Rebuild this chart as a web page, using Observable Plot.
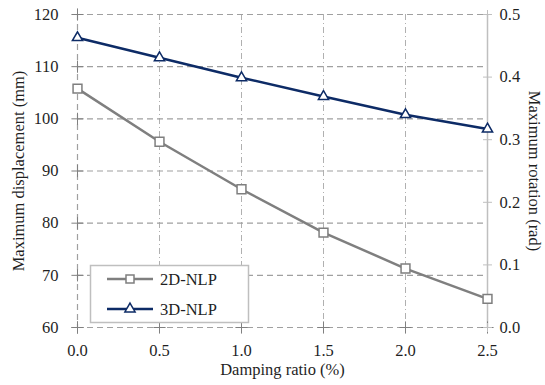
<!DOCTYPE html>
<html><head><meta charset="utf-8">
<script src="https://cdn.jsdelivr.net/npm/d3@7"></script>
<script src="https://cdn.jsdelivr.net/npm/@observablehq/plot@0.6"></script>
<style>body{margin:0;background:#fff;} #chart{position:relative;width:545px;height:385px;}</style>
</head><body><div id="chart"></div>
<script>
const damping = [0.0, 0.5, 1.0, 1.5, 2.0, 2.5];
const disp2D = [105.8, 95.6, 86.5, 78.2, 71.3, 65.5];   // mm (left axis)
const rot3D = [0.463, 0.431, 0.399, 0.369, 0.340, 0.317]; // rad (right axis)
const xTicks = [0.0, 0.5, 1.0, 1.5, 2.0, 2.5];
const leftTicks = [60, 70, 80, 90, 100, 110, 120];
const rightTicks = [0.0, 0.1, 0.2, 0.3, 0.4, 0.5];
const seriesNames = ["2D-NLP", "3D-NLP"];
const colors = ["#7f7f7f", "#0d2b66"];

const rad2mm = r => 60 + r * 120;
const d2 = damping.map((x, i) => ({x, y: disp2D[i]}));
const d3s = damping.map((x, i) => ({x, y: rad2mm(rot3D[i])}));

const font = "Liberation Serif";
const fs = 16.5;
const txt = "#1f1f1f";
const plot = Plot.plot({
  width: 545, height: 385,
  marginLeft: 77, marginRight: 58, marginTop: 14, marginBottom: 58,
  x: {domain: [0, 2.5]},
  y: {domain: [60, 120]},
  style: {fontFamily: font, fontSize: fs + "px", color: txt, background: "#fff"},
  marks: [
    Plot.ruleX(xTicks.filter(d => d > 0 && d < 2.5), {stroke: "#b0b0b0", strokeWidth: 1, strokeDasharray: "6,3,1,3"}),
    Plot.ruleX([0], {stroke: "#a0a0a0", strokeWidth: 1.2, strokeDasharray: "6,4"}),
    Plot.ruleY(leftTicks, {stroke: "#a0a0a0", strokeWidth: 1.2, strokeDasharray: "6,4"}),
    Plot.ruleX([2.5], {stroke: "#bfbfbf", strokeWidth: 1.5}),
    Plot.dot(leftTicks, {x: () => 0, y: d => d, symbol: "plus", r: 4, stroke: "#808080", strokeWidth: 1}),
    Plot.dot(xTicks, {x: d => d, y: () => 60, symbol: "plus", r: 4, stroke: "#808080", strokeWidth: 1}),
    Plot.dot(rightTicks, {x: () => 2.5, y: d => rad2mm(d), symbol: "plus", r: 3, stroke: "#bfbfbf", strokeWidth: 1}),
    Plot.axisX({ticks: xTicks, tickSize: 0, tickPadding: 17, tickFormat: d => d.toFixed(1), label: null, fontSize: fs}),
    Plot.axisY({ticks: leftTicks, tickSize: 0, tickPadding: 19, label: null, fontSize: fs}),
    Plot.axisY({anchor: "right", ticks: rightTicks.map(rad2mm), tickSize: 0, tickPadding: 12,
      tickFormat: d => ((d - 60) / 120).toFixed(1), label: null, fontSize: fs}),
    Plot.text(["Damping ratio (%)"], {frameAnchor: "bottom", textAnchor: "middle", dy: 47, fontSize: fs, fill: txt}),
    Plot.text(["Maximum displacement (mm)"], {frameAnchor: "left", textAnchor: "middle", dx: -59, rotate: -90, fontSize: fs, fill: txt}),
    Plot.text(["Maximum rotation (rad)"], {frameAnchor: "right", textAnchor: "middle", dx: 47, rotate: 90, fontSize: fs, fill: txt}),
    Plot.line(d2, {x: "x", y: "y", stroke: colors[0], strokeWidth: 2.5}),
    Plot.dot(d2, {x: "x", y: "y", symbol: "square", r: 5, stroke: colors[0], fill: "#fff", strokeWidth: 1.5}),
    Plot.line(d3s, {x: "x", y: "y", stroke: colors[1], strokeWidth: 2.5}),
    Plot.dot(d3s, {x: "x", y: "y", symbol: "triangle", r: 3.8, stroke: colors[1], fill: "#fff", strokeWidth: 1.5})
  ]
});
document.getElementById("chart").appendChild(plot);

// legend
const svg = d3.select(plot);
const g = svg.append("g").attr("text-anchor", "start");
g.append("rect").attr("x", 90.5).attr("y", 265.5).attr("width", 158).attr("height", 57)
  .attr("fill", "#fff").attr("stroke", "#bfbfbf").attr("stroke-width", 1.5);
const syms = [d3.symbolSquare, d3.symbolTriangle];
const sizes = [64, 45];
seriesNames.forEach((name, i) => {
  const y = 279 + i * 30;
  g.append("line").attr("x1", 107).attr("x2", 153).attr("y1", y).attr("y2", y)
    .attr("stroke", colors[i]).attr("stroke-width", 2.5);
  g.append("path").attr("d", d3.symbol(syms[i], sizes[i])()).attr("transform", `translate(130,${y})`)
    .attr("fill", "#fff").attr("stroke", colors[i]).attr("stroke-width", 1.5);
  g.append("text").attr("x", 160).attr("y", y).attr("dy", "0.35em").attr("font-family", font)
    .attr("font-size", fs).attr("fill", txt).attr("text-anchor", "start").text(name);
});
</script></body></html>
